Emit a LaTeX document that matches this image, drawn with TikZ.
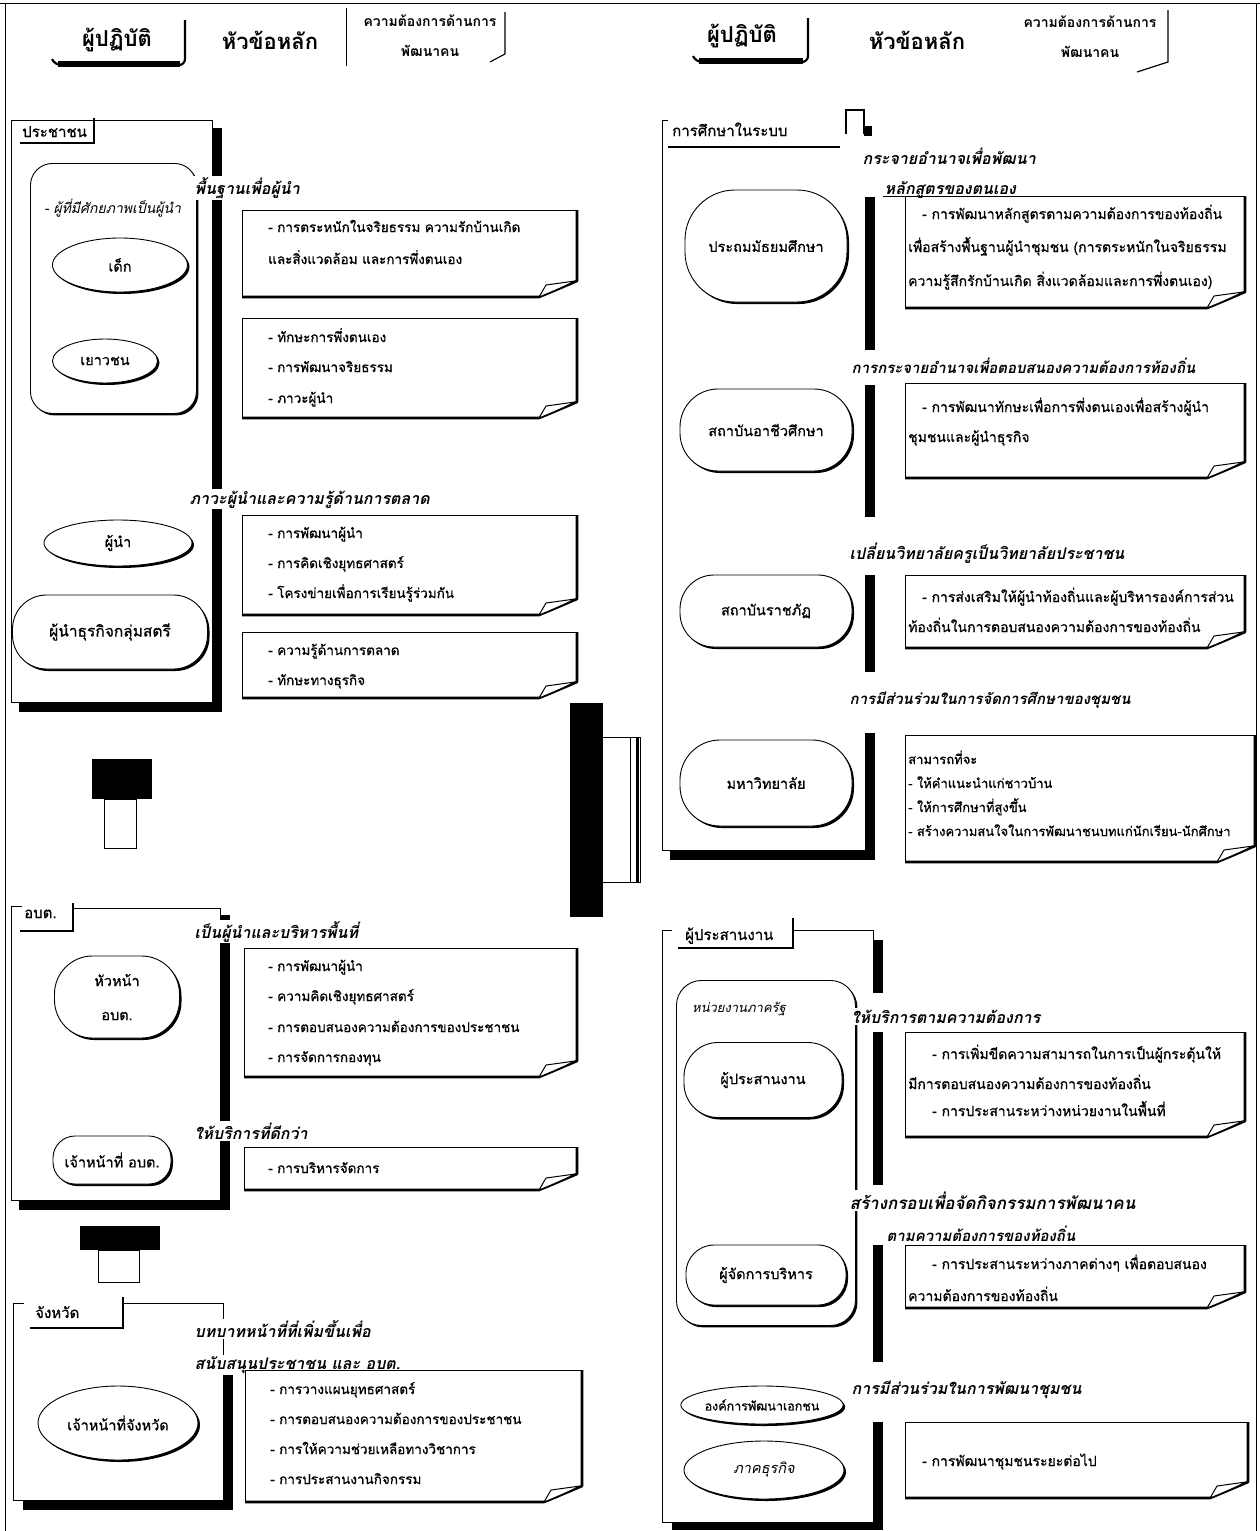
\documentclass[tikz,border=0pt]{standalone}
\usepackage{fontspec}
\setmainfont[Script=Thai, UprightFeatures={FakeBold=0.8}]{Loma}
\usetikzlibrary{shapes.geometric,shadows}
\tikzset{
  body/.style={font=\fontsize{13.5}{15}\selectfont, inner sep=0pt, anchor=base west},
  bodyr/.style={body, font=\fontsize{14}{16}\selectfont},
  ttl/.style={font=\fontsize{16}{18}\selectfont\bfseries\itshape, fill=white, inner sep=1.5pt, anchor=base west},
  lbl/.style={font=\fontsize{15}{17}\selectfont, inner sep=0pt, anchor=base west},
  hdr/.style={font=\fontsize{22}{24}\selectfont\bfseries, inner sep=0pt},
  hsm/.style={font=\fontsize{14}{16}\selectfont\bfseries, inner sep=0pt},
  shp/.style={draw, line width=0.9pt, fill=white, inner sep=1pt, font=\fontsize{14.5}{16}\selectfont, align=center,
    drop shadow={shadow xshift=2pt, shadow yshift=-2pt, opacity=1, fill=black}},
  oval/.style={shp, ellipse},
  pill/.style={shp, rectangle, rounded corners=#1},
  thn/.style={line width=0.8pt},
  thk/.style={line width=2.6pt},
  tabline/.style={line width=2.4pt},
}
\newcommand\notebx[5]{%
  \node[inner sep=0pt, outer sep=0pt, minimum width={#4-#2}, minimum height={#5-#3}, anchor=north west] (#1) at (#2,#3) {};
  \draw[thn] (#1.south west) -- (#1.north west) -- (#1.north east);
  \draw[thk, line join=round] (#1.north east) -- ([yshift=16pt]#1.south east)
     .. controls ([xshift=-14pt,yshift=10pt]#1.south east) and ([xshift=-28pt,yshift=4pt]#1.south east) .. ([xshift=-38pt]#1.south east) -- (#1.south west);
  \draw[line width=1pt, fill=white, line join=round] ([xshift=-38pt]#1.south east) -- ([xshift=-31pt,yshift=12pt]#1.south east) -- ([xshift=-2pt,yshift=16pt]#1.south east)
     .. controls ([xshift=-14pt,yshift=10pt]#1.south east) and ([xshift=-28pt,yshift=4pt]#1.south east) .. cycle;
}
\newcommand\tl[4]{\node[body] (#1) at (#2,#3) {#4};}
\newcommand\tr[4]{\node[bodyr] (#1) at (#2,#3) {#4};}
\begin{document}
\begin{tikzpicture}[x=1pt,y=-1pt]
\useasboundingbox (0,0) rectangle (1260,1531);
% page frame
\draw[thn] (0,3) -- (1260,3);
\draw[thn] (5,3) -- (5,1531);
\draw[thn] (1256,3) -- (1256,1531);

% ---------- headers ----------
\node[hdr] (h1) at (117,40) {ผู้ปฏิบัติ};
\draw[line width=2.2pt, rounded corners=6pt] (185,20) -- (185,65) -- (55,65) -- (52,59);
\draw[line width=6pt] (58,64) -- (180,64);
\node[hdr] (h2) at (270,40) {หัวข้อหลัก};
\draw[thn] (346,8) -- (346,66);
\node[hsm] (h3a) at (430,21) {ความต้องการด้านการ};
\node[hsm] (h3b) at (430,51) {พัฒนาคน};
\draw[line width=1.1pt] (505,12) -- (505,54) -- (490,62);

\node[hdr] (h4) at (742,36) {ผู้ปฏิบัติ};
\draw[line width=2.2pt, rounded corners=6pt] (808,18) -- (808,62) -- (696,62) -- (693,56);
\draw[line width=6pt] (699,61) -- (803,61);
\node[hdr] (h5) at (917,40) {หัวข้อหลัก};
\node[hsm] (h6a) at (1090,22) {ความต้องการด้านการ};
\node[hsm] (h6b) at (1090,52) {พัฒนาคน};
\draw[line width=1.2pt] (1168,10) -- (1168,62) -- (1137,72);

% ---------- panel frames ----------
% ประชาชน
\draw[thn] (11,702) -- (11,120) -- (212,120) -- (212,702) -- cycle;
\fill (212,128) rectangle (222,712);
\fill (19,702) rectangle (222,712);
\node[lbl] (tab1) at (22,137) {ประชาชน};
\draw[tabline] (94,118) -- (94,143) -- (20,143);
\node[shp, rectangle, rounded corners=22pt, minimum width=166pt, minimum height=250pt, anchor=north west] (r1) at (30,163) {};
% อบต.
\draw[thn] (11,1200) -- (11,906) -- (22,906);
\draw[thn] (73,908) -- (220,908) -- (220,1200) -- (11,1200);
\fill (220,915) rectangle (230,1210);
\fill (19,1200) rectangle (230,1210);
\node[lbl] (tab2) at (24,918) {อบต.};
\draw[tabline] (73,903) -- (73,931) -- (20,931);
% จังหวัด
\draw[thn] (13,1500) -- (13,1303) -- (24,1303);
\draw[thn] (123,1303) -- (223,1303) -- (223,1500) -- (13,1500);
\fill (223,1370) rectangle (233,1510);
\fill (23,1500) rectangle (233,1510);
\node[lbl] (tab3) at (35,1318) {จังหวัด};
\draw[tabline] (123,1297) -- (123,1328) -- (30,1328);
% การศึกษาในระบบ
\draw[thn] (668,120) -- (662,120) -- (662,850) -- (865,850);
\node[lbl] (tab4) at (672,136) {การศึกษาในระบบ};
\draw[line width=1.6pt] (668,147) -- (840,147);
\draw[line width=1.2pt] (846,134) -- (846,110) -- (864,110) -- (864,134);
\fill (864,126) rectangle (872,136);
\fill (865,197) rectangle (875,350);
\fill (865,385) rectangle (875,517);
\fill (865,575) rectangle (875,672);
\fill (865,733) rectangle (875,860);
\fill (670,850) rectangle (875,860);
% ผู้ประสานงาน
\draw[thn] (672,930) -- (662,930) -- (662,1522) -- (873,1522);
\draw[thn] (793,930) -- (873,930) -- (873,940);
\node[lbl] (tab5) at (685,940) {ผู้ประสานงาน};
\draw[tabline] (793,918) -- (793,948) -- (678,948);
\fill (873,940) rectangle (883,993);
\fill (873,1032) rectangle (883,1185);
\fill (873,1245) rectangle (883,1362);
\fill (873,1422) rectangle (883,1530);
\fill (672,1522) rectangle (883,1530);
\node[shp, rectangle, rounded corners=25pt, minimum width=179pt, minimum height=345pt, anchor=north west] (r2) at (676,980) {};

% ---------- block arrows ----------
\fill (92,759) rectangle (152,799);
\draw[thn, fill=white] (104,799) rectangle (136,848);
\fill (80,1226) rectangle (160,1250);
\draw[thn, fill=white] (98,1250) rectangle (139,1282);
\fill (570,703) rectangle (603,917);
\draw[thn] (603,737) -- (640,737) -- (640,882) -- (603,882);
\draw[line width=3pt] (637,737) -- (637,882);
\draw[thn] (630,737) -- (630,882);

% ---------- titles ----------
\node[ttl] (s1) at (193,194) {พื้นฐานเพื่อผู้นำ};
\node[ttl] (s2) at (188,504) {ภาวะผู้นำและความรู้ด้านการตลาด};
\node[ttl] (s3) at (193,938) {เป็นผู้นำและบริหารพื้นที่};
\node[ttl] (s4) at (193,1139) {ให้บริการที่ดีกว่า};
\node[ttl] (s5) at (193,1337) {บทบาทหน้าที่ที่เพิ่มขึ้นเพื่อ};
\node[ttl] (s6) at (193,1369) {สนับสนุนประชาชน และ อบต.};
\node[ttl] (s7) at (861,164) {กระจายอำนาจเพื่อพัฒนา};
\node[ttl, fill=none] (s8) at (883,194) {หลักสูตรของตนเอง};
\node[ttl, font=\fontsize{15}{17}\selectfont\bfseries\itshape] (s9) at (850,373) {การกระจายอำนาจเพื่อตอบสนองความต้องการท้องถิ่น};
\node[ttl] (s10) at (848,559) {เปลี่ยนวิทยาลัยครูเป็นวิทยาลัยประชาชน};
\node[ttl, font=\fontsize{15}{17}\selectfont\bfseries\itshape] (s11) at (848,704) {การมีส่วนร่วมในการจัดการศึกษาของชุมชน};
\node[ttl] (s12) at (850,1023) {ให้บริการตามความต้องการ};
\node[ttl, font=\fontsize{17}{19}\selectfont\bfseries\itshape] (s13) at (848,1209) {สร้างกรอบเพื่อจัดกิจกรรมการพัฒนาคน};
\node[ttl, font=\fontsize{15}{17}\selectfont\bfseries\itshape] (s14) at (885,1241) {ตามความต้องการของท้องถิ่น};
\node[ttl] (s15) at (850,1394) {การมีส่วนร่วมในการพัฒนาชุมชน};

% ---------- inner labels ----------
\node[lbl, font=\fontsize{14}{16}\selectfont\itshape] (l1) at (44,213) {- ผู้ที่มีศักยภาพเป็นผู้นำ};
\node[lbl, font=\fontsize{13}{15}\selectfont\itshape] (l2) at (692,1012) {หน่วยงานภาครัฐ};

% ---------- actor shapes ----------
\node[oval, minimum width=135pt, minimum height=54pt] (o1) at (120,265) {เด็ก};
\node[oval, minimum width=105pt, minimum height=44pt] (o2) at (105,361) {เยาวชน};
\node[oval, minimum width=148pt, minimum height=46pt] (o3) at (118,543) {ผู้นำ};
\node[pill=34pt, minimum width=195pt, minimum height=74pt, font=\fontsize{15.5}{17}\selectfont] (p1) at (110,632) {ผู้นำธุรกิจกลุ่มสตรี};
\node[pill=38pt, minimum width=125pt, minimum height=82pt, font=\fontsize{14.5}{34}\selectfont] (p2) at (117,997) {หัวหน้า\\อบต.};
\node[pill=22pt, minimum width=118pt, minimum height=48pt] (p3) at (112,1160) {เจ้าหน้าที่ อบต.};
\node[oval, minimum width=160pt, minimum height=74pt] (o4) at (118,1423) {เจ้าหน้าที่จังหวัด};
\node[pill=50pt, minimum width=162pt, minimum height=112pt] (p4) at (766,246) {ประถมมัธยมศึกษา};
\node[pill=38pt, minimum width=172pt, minimum height=82pt] (p5) at (766,430) {สถาบันอาชีวศึกษา};
\node[pill=34pt, minimum width=172pt, minimum height=72pt] (p6) at (766,611) {สถาบันราชภัฏ};
\node[pill=40pt, minimum width=172pt, minimum height=86pt] (p7) at (766,783) {มหาวิทยาลัย};
\node[pill=34pt, minimum width=158pt, minimum height=75pt] (p8) at (763,1080) {ผู้ประสานงาน};
\node[pill=28pt, minimum width=160pt, minimum height=60pt] (p9) at (766,1275) {ผู้จัดการบริหาร};
\node[oval, minimum width=140pt, minimum height=38pt, inner sep=0pt, font=\fontsize{12.5}{14}\selectfont] (o5) at (762,1405) {องค์การพัฒนาเอกชน};
\node[oval, minimum width=160pt, minimum height=58pt, font=\fontsize{14.5}{16}\selectfont\itshape] (o6) at (764,1470) {ภาคธุรกิจ};

% ---------- note boxes ----------
\notebx{b1}{242}{210}{577}{297}
\tl{b1a}{268}{232}{- การตระหนักในจริยธรรม ความรักบ้านเกิด}
\tl{b1b}{268}{264}{และสิ่งแวดล้อม และการพึ่งตนเอง}
\notebx{b2}{242}{318}{577}{418}
\tl{b2a}{268}{342}{- ทักษะการพึ่งตนเอง}
\tl{b2b}{268}{372}{- การพัฒนาจริยธรรม}
\tl{b2c}{268}{403}{- ภาวะผู้นำ}
\notebx{b3}{242}{515}{577}{615}
\tl{b3a}{268}{538}{- การพัฒนาผู้นำ}
\tl{b3b}{268}{568}{- การคิดเชิงยุทธศาสตร์}
\tl{b3c}{268}{598}{- โครงข่ายเพื่อการเรียนรู้ร่วมกัน}
\notebx{b4}{242}{632}{577}{698}
\tl{b4a}{268}{655}{- ความรู้ด้านการตลาด}
\tl{b4b}{268}{685}{- ทักษะทางธุรกิจ}
\notebx{b5}{244}{948}{577}{1077}
\tl{b5a}{268}{971}{- การพัฒนาผู้นำ}
\tl{b5b}{268}{1001}{- ความคิดเชิงยุทธศาสตร์}
\tl{b5c}{268}{1032}{- การตอบสนองความต้องการของประชาชน}
\tl{b5d}{268}{1062}{- การจัดการกองทุน}
\notebx{b6}{244}{1147}{577}{1190}
\tl{b6a}{268}{1173}{- การบริหารจัดการ}
\notebx{b7}{245}{1370}{582}{1502}
\tl{b7a}{270}{1394}{- การวางแผนยุทธศาสตร์}
\tl{b7b}{270}{1424}{- การตอบสนองความต้องการของประชาชน}
\tl{b7c}{270}{1454}{- การให้ความช่วยเหลือทางวิชาการ}
\tl{b7d}{270}{1484}{- การประสานงานกิจกรรม}
\notebx{b8}{905}{196}{1245}{308}
\draw[thn] (883,196) -- (b8.north west);
\tr{b8a}{922}{219}{- การพัฒนาหลักสูตรตามความต้องการของท้องถิ่น}
\tr{b8b}{908}{252}{เพื่อสร้างพื้นฐานผู้นำชุมชน (การตระหนักในจริยธรรม}
\tr{b8c}{908}{286}{ความรู้สึกรักบ้านเกิด สิ่งแวดล้อมและการพึ่งตนเอง)}
\notebx{b9}{905}{383}{1245}{478}
\tr{b9a}{922}{412}{- การพัฒนาทักษะเพื่อการพึ่งตนเองเพื่อสร้างผู้นำ}
\tr{b9b}{908}{442}{ชุมชนและผู้นำธุรกิจ}
\notebx{b10}{905}{575}{1245}{648}
\tr{b10a}{922}{602}{- การส่งเสริมให้ผู้นำท้องถิ่นและผู้บริหารองค์การส่วน}
\tr{b10b}{908}{632}{ท้องถิ่นในการตอบสนองความต้องการของท้องถิ่น}
\notebx{b11}{905}{735}{1255}{862}
\node[body, font=\fontsize{13}{15}\selectfont] (b11a) at (908,764) {สามารถที่จะ};
\node[body, font=\fontsize{13}{15}\selectfont] (b11b) at (908,788) {- ให้คำแนะนำแก่ชาวบ้าน};
\node[body, font=\fontsize{13}{15}\selectfont] (b11c) at (908,812) {- ให้การศึกษาที่สูงขึ้น};
\node[body, font=\fontsize{13}{15}\selectfont] (b11d) at (908,836) {- สร้างความสนใจในการพัฒนาชนบทแก่นักเรียน-นักศึกษา};
\notebx{b12}{905}{1032}{1245}{1137}
\tr{b12a}{932}{1059}{- การเพิ่มขีดความสามารถในการเป็นผู้กระตุ้นให้}
\tr{b12b}{908}{1089}{มีการตอบสนองความต้องการของท้องถิ่น}
\tr{b12c}{932}{1116}{- การประสานระหว่างหน่วยงานในพื้นที่}
\notebx{b13}{905}{1245}{1245}{1308}
\tr{b13a}{932}{1269}{- การประสานระหว่างภาคต่างๆ เพื่อตอบสนอง}
\tr{b13b}{908}{1301}{ความต้องการของท้องถิ่น}
\notebx{b14}{905}{1422}{1248}{1498}
\tr{b14a}{922}{1466}{- การพัฒนาชุมชนระยะต่อไป}
\end{tikzpicture}
\end{document}
